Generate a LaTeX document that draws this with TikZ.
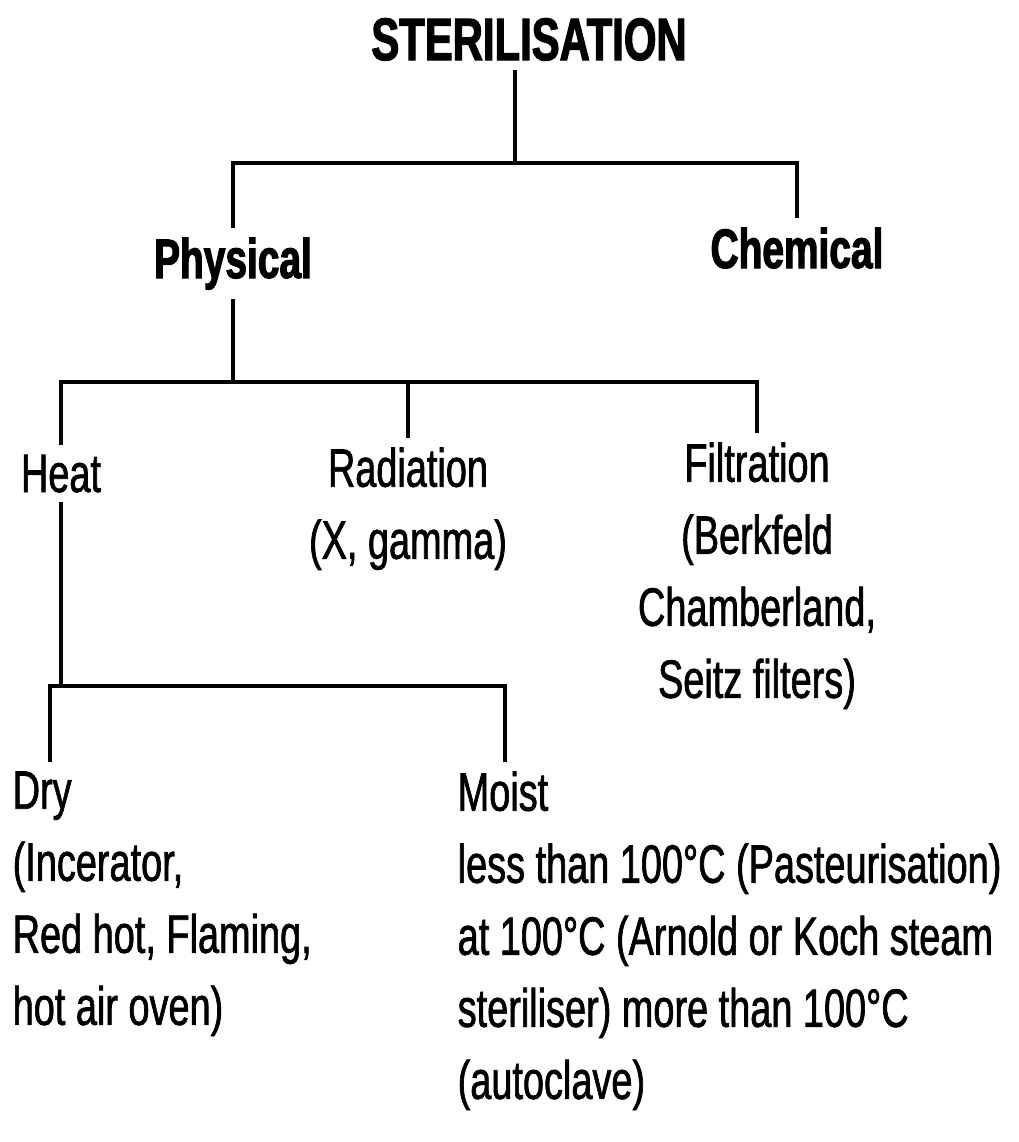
\documentclass[tikz,border=0pt]{standalone}
\usepackage{fontspec}
\setmainfont{Liberation Sans}[FakeStretch=0.70,UprightFeatures={FakeBold=1.2},BoldFeatures={FakeBold=2}]
\tikzset{lbl/.style={inner xsep=0pt,inner ysep=2.5pt,font=\fontsize{15.4}{20.5}\selectfont},
  head/.style={lbl,font=\bfseries\fontsize{15.8}{18}\selectfont},
  branch/.style={line width=1.35pt}}
\begin{document}
\begin{tikzpicture}
      \useasboundingbox (0,0) rectangle (10.19,-11.42);
      \node[head,anchor=base,font=\bfseries\fontsize{17}{19}\selectfont] (steril) at (5.29,-0.6) {STERILISATION};
      \node[head,anchor=base] (phys) at (2.33,-2.78) {Physical};
      \node[head,anchor=base] (chem) at (7.97,-2.68) {Chemical};
      \node[lbl,anchor=base] (heat) at (0.61,-4.92) {Heat};
      \node[lbl,anchor=north,align=center] (rad) at (4.08,-4.38) {Radiation\\(X, gamma)};
      \node[lbl,anchor=north,align=center] (filt) at (7.57,-4.33) {Filtration\\(Berkfeld\\Chamberland,\\Seitz filters)};
      \node[lbl,anchor=north west,align=left] (dry) at (0.12,-7.62) {Dry\\(Incerator,\\Red hot, Flaming,\\hot air oven)};
      \node[lbl,anchor=north west,align=left] (moist) at (4.57,-7.62) {Moist\\less than 100°C (Pasteurisation)\\at 100°C (Arnold or Koch steam\\steriliser) more than 100°C\\(autoclave)};
      \coordinate (j1) at (5.15,-1.63);
      \coordinate (j2) at (2.33,-3.82);
      \coordinate (j3) at (0.61,-6.86);
      \draw[branch] (steril.south -| j1) -- (j1);
      \draw[branch] (phys.north) |- (j1) -| (chem.north);
      \draw[branch] (phys.south) -- (j2);
      \draw[branch] (heat.north) |- (j2) -| (filt.north);
      \draw[branch] (rad.north) -- (rad.north |- j2);
      \draw[branch] (heat.south) -- (j3);
      \draw[branch] ([xshift=0.38cm]dry.north west) |- (j3) -| ([xshift=0.48cm]moist.north west);
\end{tikzpicture}
\end{document}
